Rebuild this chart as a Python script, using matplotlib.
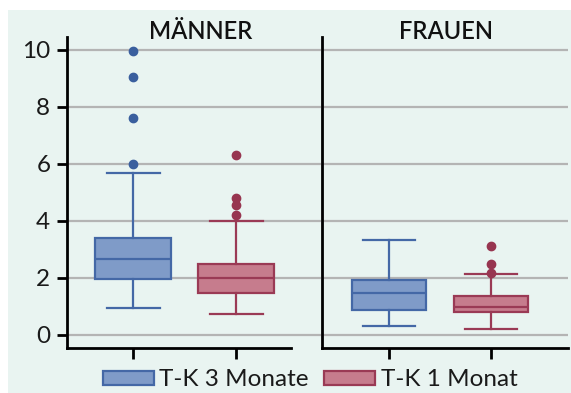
import matplotlib
matplotlib.use("Agg")
import matplotlib.pyplot as plt
from matplotlib.patches import Patch, Rectangle

plt.rcParams['font.family'] = ['Lato', 'DejaVu Sans']

groups = ["MÄNNER", "FRAUEN"]
series = ["T-K 3 Monate", "T-K 1 Monat"]
yticks = [0, 2, 4, 6, 8, 10]

# box statistics per group: [3 Monate, 1 Monat]
whislo = [[0.92, 0.71], [0.32, 0.18]]
q1 = [[1.95, 1.47], [0.86, 0.79]]
med = [[2.64, 1.98], [1.46, 0.97]]
q3 = [[3.38, 2.47], [1.91, 1.35]]
whishi = [[5.66, 3.98], [3.31, 2.12]]
fliers = [
    [[6.0, 7.6, 9.03, 9.95], [4.2, 4.54, 4.78, 6.3]],
    [[], [2.18, 2.47, 3.12]],
]

fills = ["#7f9bc8", "#c67c8d"]
edges = ["#4468a6", "#9a3a55"]
dots = ["#3a5f9e", "#973550"]
bg = "#e9f4f1"

fig = plt.figure(figsize=(5.71, 3.93), dpi=100)
fig.patches.append(Rectangle((8 / 571, 0), 1, 1 - 10 / 393, transform=fig.transFigure,
                             facecolor=bg, edgecolor="none", zorder=-10))

axes_pos = [
    [67 / 571, 45 / 393, 254 / 571, 311 / 393],
    [321.7 / 571, 45 / 393, 246.3 / 571, 311 / 393],
]
xlims = [(0.359, 2.825), (0.34, 2.755)]
spine_end = [2.534, 2.755]
title_x = [201, 446]

for g in range(2):
    ax = fig.add_axes(axes_pos[g])
    ax.set_facecolor("none")
    for s in range(2):
        st = dict(whislo=whislo[g][s], q1=q1[g][s], med=med[g][s], q3=q3[g][s],
                  whishi=whishi[g][s], fliers=fliers[g][s])
        ax.bxp([st], positions=[s + 1], widths=0.73, capwidths=0.515,
               patch_artist=True, showfliers=True,
               boxprops=dict(facecolor=fills[s], edgecolor=edges[s], linewidth=1.6),
               medianprops=dict(color=edges[s], linewidth=1.6),
               whiskerprops=dict(color=edges[s], linewidth=1.6),
               capprops=dict(color=edges[s], linewidth=1.6),
               flierprops=dict(marker="o", markersize=6, markerfacecolor=dots[s],
                               markeredgecolor=dots[s]))
    ax.set_xlim(*xlims[g])
    ax.set_ylim(-0.47, 10.45)
    ax.set_yticks(yticks)
    ax.set_xticks([1, 2])
    ax.set_xticklabels([])
    ax.grid(axis="y", color="#b4b4b4", linewidth=1.6)
    ax.set_axisbelow(True)
    for side in ["top", "right"]:
        ax.spines[side].set_visible(False)
    for side in ["left", "bottom"]:
        ax.spines[side].set_linewidth(2)
    ax.spines["bottom"].set_bounds(xlims[g][0], spine_end[g])
    ax.tick_params(axis="x", length=8, width=2)
    ax.tick_params(axis="y", length=7, width=2, labelsize=17.5, pad=5,
                   labelcolor="#1a1a1a")
    if g == 1:
        ax.tick_params(axis="y", left=False, labelleft=False)
    fig.text(title_x[g] / 571, 1 - 39 / 393, groups[g], ha="center", va="baseline",
             fontsize=17, color="#111111", fontweight="semibold")

handles = [Patch(facecolor=fills[i], edgecolor=edges[i], linewidth=1.6, label=series[i])
           for i in range(2)]
fig.legend(handles=handles, loc="center", bbox_to_anchor=(310 / 571, 1 - 380 / 393),
           ncol=2, frameon=False, fontsize=17.5, handlelength=2.1, handleheight=0.55,
           handletextpad=0.22, columnspacing=0.65, borderaxespad=0, borderpad=0,
           labelcolor="#1a1a1a")

fig.savefig("out.png", dpi=100)
